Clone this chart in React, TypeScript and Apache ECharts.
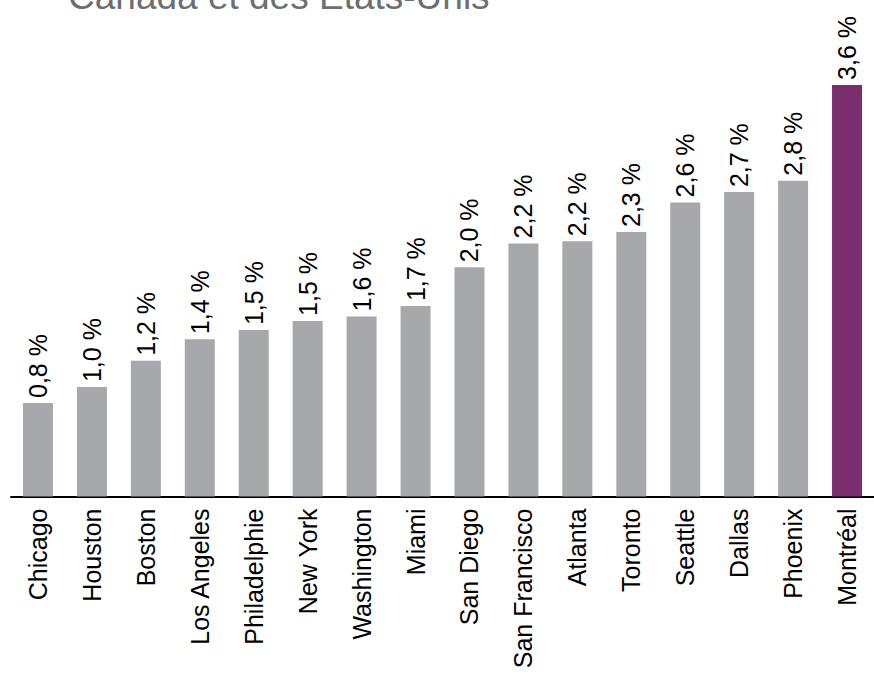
import React, { useEffect, useRef } from "react";
import * as echarts from "echarts";

const categories = [
  "Chicago", "Houston", "Boston", "Los Angeles", "Philadelphie", "New York",
  "Washington", "Miami", "San Diego", "San Francisco", "Atlanta", "Toronto",
  "Seattle", "Dallas", "Phoenix", "Montréal",
];
const values = [
  0.82, 0.96, 1.19, 1.38, 1.46, 1.54, 1.58, 1.67, 2.01, 2.22, 2.24, 2.32,
  2.58, 2.67, 2.77, 3.61,
];
const highlighted = ["Montréal"];
const titleText = "Canada et des États-Unis";

const FONT = "'Liberation Sans', Arial, Helvetica, sans-serif";

export default function App() {
  const ref = useRef<HTMLDivElement>(null);
  useEffect(() => {
    if (!ref.current) return;
    const chart = echarts.init(ref.current, undefined, { renderer: "svg" });
    chart.setOption({
      animation: false,
      backgroundColor: "#ffffff",
      grid: { left: 11, width: 866, top: 40.5, bottom: 180.5, containLabel: false },
      graphic: [
        {
          type: "text",
          x: 68,
          y: -22,
          style: {
            text: titleText,
            font: `37px ${FONT}`,
            fill: "#6d6e71",
            verticalAlign: "top",
          },
        },
      ],
      xAxis: {
        type: "category",
        data: categories,
        axisLine: { show: true, lineStyle: { color: "#000000", width: 2 } },
        axisTick: { show: false },
        axisLabel: {
          rotate: 90,
          interval: 0,
          margin: 12,
          fontSize: 25,
          fontFamily: FONT,
          color: "#000000",
        },
      },
      yAxis: {
        type: "value",
        min: 0,
        max: 4,
        show: false,
        splitLine: { show: false },
      },
      series: [
        {
          type: "bar",
          barWidth: 30,
          data: categories.map((c, i) => ({
            value: values[i],
            itemStyle: { color: highlighted.includes(c) ? "#7a2e6e" : "#a7a8ac" },
          })),
          label: {
            show: true,
            position: "top",
            rotate: 90,
            align: "left",
            verticalAlign: "middle",
            distance: 5,
            fontSize: 25,
            fontFamily: FONT,
            color: "#000000",
            formatter: (p: any) => p.value.toFixed(1).replace(".", ",") + " %",
          },
        },
      ],
    });
    return () => chart.dispose();
  }, []);
  return (
    <div
      ref={ref}
      style={{ position: "fixed", left: 0, top: 0, width: 874, height: 677 }}
    />
  );
}
